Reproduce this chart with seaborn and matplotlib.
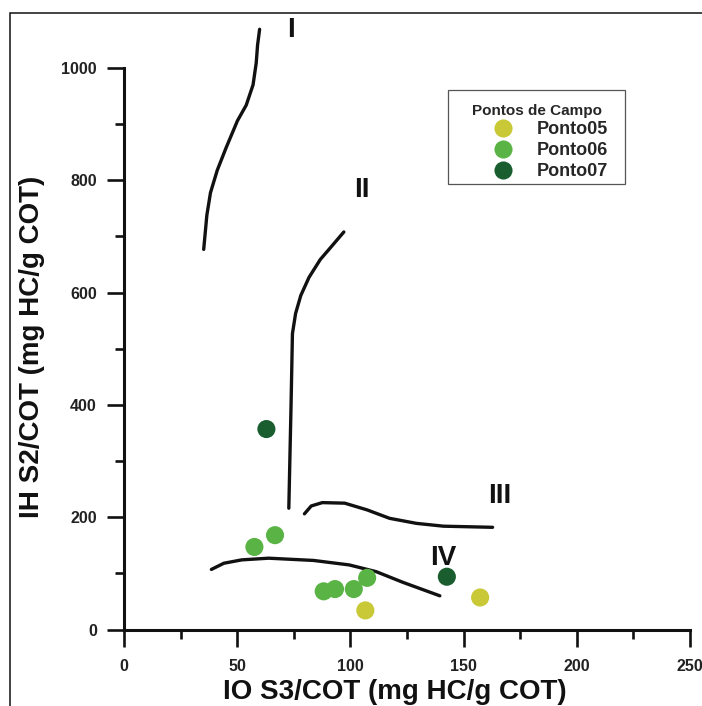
import numpy as np
import pandas as pd
import seaborn as sns
import matplotlib.pyplot as plt
from matplotlib.patches import Rectangle
from matplotlib.ticker import MultipleLocator

# Pontos de campo (IO, IH)
ponto05_io = [106.6, 157.3]
ponto05_ih = [34, 57]
ponto06_io = [57.6, 66.7, 88.2, 93.2, 101.5, 107.4]
ponto06_ih = [147, 168, 68, 72, 72, 92]
ponto07_io = [62.9, 142.6]
ponto07_ih = [357, 94]

# Curvas de tipo de querogênio
tipo1_x = [35.2, 36.6, 38.2, 41.2, 45.1, 50.1, 54.0, 57.0, 58.4, 59.0, 59.9]
tipo1_y = [677, 738, 778, 818, 858, 906, 934, 970, 1009, 1041, 1069]
tipo2_x = [72.8, 73.8, 74.4, 75.8, 78.1, 81.7, 86.7, 91.6, 97.1]
tipo2_y = [216, 403, 527, 563, 595, 627, 659, 682, 708]
tipo3_x = [79.7, 82.7, 87.6, 97.5, 107.4, 117.3, 129.2, 141.1, 162.8]
tipo3_y = [206, 220, 226, 225, 213, 198, 189, 184, 182]
tipo4_x = [38.6, 44.1, 52.0, 63.9, 83.7, 99.5, 111.4, 123.2, 139.5]
tipo4_y = [107, 118, 124, 127, 123, 115, 103, 84, 60]

rotulos = ['I', 'II', 'III', 'IV']
rotulos_x = [73.8, 105.0, 165.8, 141.0]
rotulos_y = [1055, 770, 226, 114.5]

pontos = ['Ponto05', 'Ponto06', 'Ponto07']
cores = ['#c9c837', '#5ab445', '#1a5e30']

df = pd.DataFrame({
    'IO': ponto05_io + ponto06_io + ponto07_io,
    'IH': ponto05_ih + ponto06_ih + ponto07_ih,
    'Ponto': ['Ponto05'] * len(ponto05_io) + ['Ponto06'] * len(ponto06_io)
             + ['Ponto07'] * len(ponto07_io),
})

sns.set_style('ticks')
plt.rcParams['font.family'] = ['Liberation Sans', 'DejaVu Sans']
plt.rcParams['font.weight'] = 'bold'

fig = plt.figure(figsize=(7.02, 7.06), dpi=100)
ax = fig.add_axes([124 / 702, 76.5 / 706, 566 / 702, 616.5 / 706])

for cx, cy in [(tipo1_x, tipo1_y), (tipo2_x, tipo2_y),
               (tipo3_x, tipo3_y), (tipo4_x, tipo4_y)]:
    sns.lineplot(x=cx, y=cy, sort=False, estimator=None, color='#111111',
                 linewidth=2.4, ax=ax)

sns.scatterplot(data=df, x='IO', y='IH', hue='Ponto', hue_order=pontos,
                palette=cores, s=170, edgecolor='none', ax=ax, zorder=3)

for t, tx, ty in zip(rotulos, rotulos_x, rotulos_y):
    ax.text(tx, ty, t, ha='center', va='baseline', fontsize=20,
            fontweight='bold', color='#111111')

ax.set_xlim(0, 250)
ax.set_ylim(0, 1098)
ax.xaxis.set_major_locator(MultipleLocator(50))
ax.xaxis.set_minor_locator(MultipleLocator(25))
ax.set_yticks(range(0, 1001, 200))
ax.set_yticks(range(100, 1000, 200), minor=True)
sns.despine(ax=ax)
ax.spines['left'].set_bounds(0, 1000)
for sp in ['left', 'bottom']:
    ax.spines[sp].set_linewidth(2.2)
    ax.spines[sp].set_color('#111111')
ax.tick_params(axis='both', which='major', length=12.5, width=1.9,
               color='#111111', labelsize=11.5, labelcolor='#222222')
ax.tick_params(axis='both', which='minor', length=6.3, width=1.9,
               color='#111111')
ax.tick_params(axis='x', which='major', pad=9)
ax.tick_params(axis='y', which='major', pad=7)
for lab in ax.get_xticklabels() + ax.get_yticklabels():
    lab.set_fontweight('bold')

ax.set_xlabel('IO S3/COT (mg HC/g COT)', fontsize=20, fontweight='bold',
              color='#111111')
ax.set_ylabel('IH S2/COT (mg HC/g COT)', fontsize=20, fontweight='bold',
              color='#111111')
ax.xaxis.set_label_coords(0.478, -0.080)
ax.yaxis.set_label_coords(-0.140, 0.458)

leg = ax.legend(title='Pontos de Campo', frameon=False, fontsize=13,
                title_fontproperties={'weight': 'bold', 'size': 11},
                loc='upper left', bbox_to_anchor=(465 / 702, 1 - 103.5 / 706),
                bbox_transform=fig.transFigure, borderpad=0, borderaxespad=0,
                handlelength=4.22, handletextpad=-0.22, labelspacing=0.22)
for txt in leg.get_texts():
    txt.set_fontweight('bold')
fig.add_artist(Rectangle((448 / 702, 1 - 183.6 / 706), 177 / 702, 94 / 706,
                         transform=fig.transFigure, fill=False,
                         edgecolor='#555555', linewidth=0.9))

# moldura externa
fig.add_artist(Rectangle((10 / 702, -0.05), 1.2, 693 / 706 + 0.05,
                         transform=fig.transFigure, fill=False,
                         edgecolor='#111111', linewidth=1.1))

fig.savefig('out.png', dpi=100)
